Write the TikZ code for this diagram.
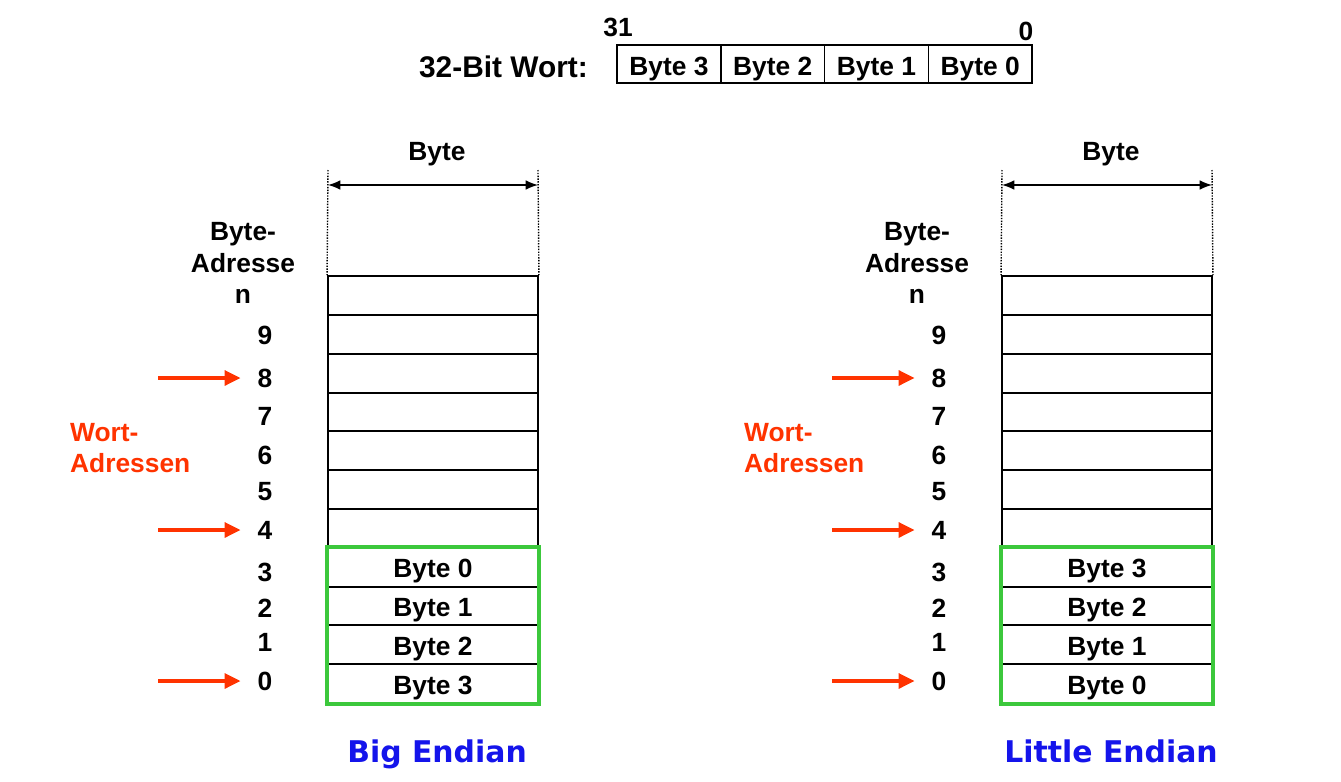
\documentclass[tikz,border=0pt]{standalone}
\usepackage{fontspec}
\setmainfont{Liberation Sans}
\newfontfamily\endianfont{DejaVu Sans}
\usetikzlibrary{arrows.meta}

\definecolor{wortrot}{RGB}{255,51,0}
\definecolor{rahmengruen}{RGB}{60,200,60}
\definecolor{endianblau}{RGB}{20,20,235}

\begin{document}
\begin{tikzpicture}[x=0.02cm,y=-0.02cm,
   font=\fontsize{15}{18}\selectfont\bfseries,
   zelle/.style={draw,line width=1.1pt,minimum width=4.2cm,minimum height=0.776cm,inner sep=0pt},
   wortzelle/.style={draw,line width=0.8pt,minimum width=2.075cm,minimum height=0.76cm,inner sep=0pt,
      text height=13pt,text depth=0pt},
   pfeil/.style={wortrot,line width=1.8pt,-{Triangle[length=9pt,width=8.5pt]},shorten >=0.22cm},
   masspfeil/.style={line width=0.8pt,{Latex[length=7pt,width=5.5pt]}-{Latex[length=7pt,width=5.5pt]}},
   titel/.style={font=\fontsize{17}{20}\selectfont\endianfont\bfseries,text=endianblau,anchor=base}]
\useasboundingbox (0,0) rectangle (1341,781);

% 32-Bit Wort oben
\node[anchor=east,font=\fontsize{17}{20}\selectfont\bfseries] (wortname) at (594,67) {32-Bit Wort:};
\foreach \b [count=\i from 0] in {3,2,1,0}
   \node[wortzelle] (w\b) at (669+103.75*\i,64) {Byte \b};
\node (bit31) at (618,27) {31};
\node (bit0) at (1026,31) {0};

% die beiden Speicher
\foreach \s/\dx/\name/\reihe in {B/0/Big Endian/{3,2,1,0}, L/674/Little Endian/{0,1,2,3}}{
   \foreach \k in {0,...,10}
      \node[zelle] (\s\k) at (433+\dx,{703-38.8*(\k+0.5)}) {};
   \foreach \b [count=\k from 0] in \reihe
      \node[text height=12pt,text depth=0pt] at (\s\k) {Byte \b};
   \draw[rahmengruen,line width=2.6pt] (\s0.south west) rectangle (\s3.north east);

   % Breite eines Bytes
   \coordinate (\s ol) at (328+\dx,170);
   \coordinate (\s or) at (538+\dx,170);
   \coordinate (\s pl) at (328+\dx,185);
   \coordinate (\s pr) at (538+\dx,185);
   \draw[line width=0.8pt,dash pattern=on 0.8pt off 0.8pt] (\s ol) -- (\s10.north west);
   \draw[line width=0.8pt,dash pattern=on 0.8pt off 0.8pt] (\s or) -- (\s10.north east);
   \draw[masspfeil] (\s pl) -- (\s pr);
   \node (\s kopf) at (437+\dx,154) {Byte};

   % Adressen
   \node[align=center] (\s badr) at (243+\dx,263) {Byte-\\Adresse\\n};
   \foreach \n/\y in {0/681,1/642,2/608,3/572,4/530,5/492,6/455,7/416,8/378,9/335}
      \node (\s a\n) at (265+\dx,\y) {\n};
   \node[anchor=west,align=left,text=wortrot] (\s wadr) at (64+\dx,448) {Wort-\\Adressen};
   \foreach \n in {0,4,8}{
      \coordinate (\s w\n) at ([xshift=-2.14cm]\s a\n.center);
      \draw[pfeil] (\s w\n) -- (\s a\n);
   }

   \node[titel] (\s titel) at (437+\dx,762) {\name};
}
\end{tikzpicture}
\end{document}
